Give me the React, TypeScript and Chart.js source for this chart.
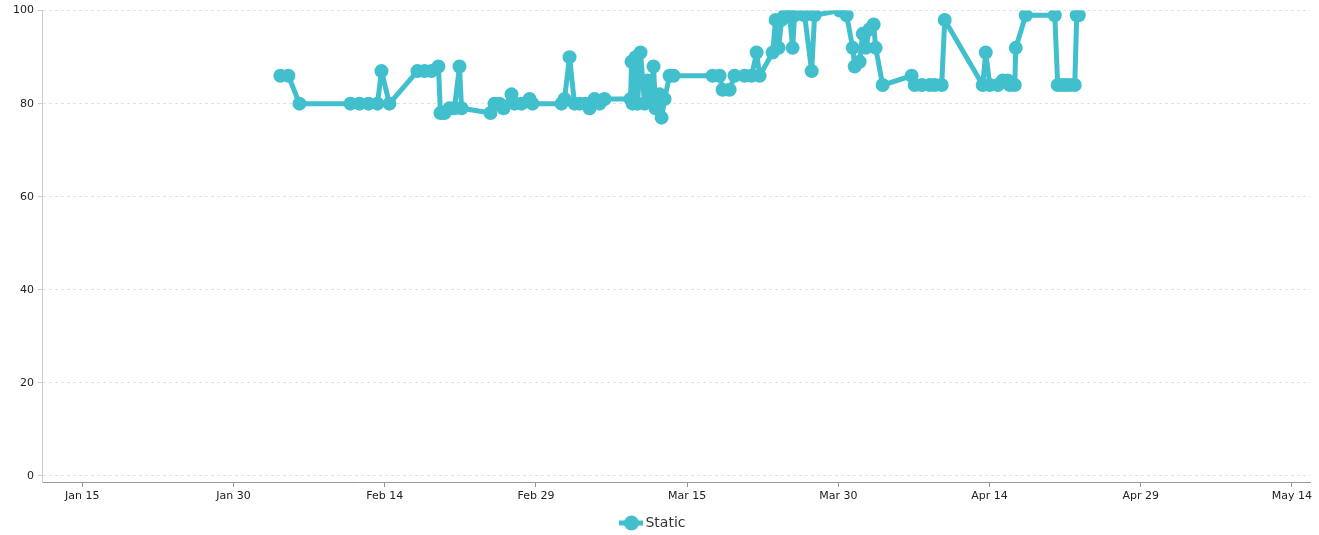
import React, { useEffect, useRef } from "react";
import { Chart, registerables } from "chart.js";

Chart.register(...registerables);

// Day offsets from 2016-01-01 (fractional days = time of day)
const dayOffsets: number[] = [
  33.65, 34.45, 35.54, 40.6, 41.49, 42.39, 43.28, 43.68, 44.47, 47.25,
  47.95, 48.64, 49.33, 49.53, 49.93, 50.43, 50.92, 51.42, 51.62, 54.5,
  54.89, 55.39, 55.79, 56.58, 56.88, 57.57, 58.37, 58.66, 61.54, 61.84,
  62.34, 62.83, 63.33, 63.93, 64.32, 64.82, 65.32, 65.81, 68.39, 68.49,
  68.59, 68.89, 69.09, 69.38, 69.78, 70.08, 70.38, 70.67, 70.87, 71.27,
  71.47, 71.77, 72.26, 72.66, 76.53, 77.23, 77.52, 78.22, 78.71, 79.71,
  80.4, 80.9, 81.2, 82.49, 82.78, 83.08, 83.38, 83.68, 84.17, 84.47,
  84.67, 85.66, 86.36, 86.65, 89.14, 89.83, 90.43, 90.63, 91.12, 91.42,
  91.72, 92.11, 92.51, 92.71, 93.4, 96.28, 96.58, 97.28, 98.07, 98.57,
  99.26, 99.56, 103.33, 103.63, 104.03, 104.82, 105.32, 105.81, 106.01, 106.51,
  106.61, 107.6, 110.48, 110.77, 111.17, 111.57, 111.97, 112.46, 112.66, 112.86,
];

const staticValues: number[] = [
  86, 86, 80, 80, 80, 80, 80, 87, 80, 87,
  87, 87, 88, 78, 78, 79, 79, 88, 79, 78,
  80, 80, 79, 82, 80, 80, 81, 80, 80, 81,
  90, 80, 80, 80, 79, 81, 80, 81, 81, 89,
  80, 90, 80, 91, 80, 85, 81, 88, 79, 82,
  77, 81, 86, 86, 86, 86, 83, 83, 86, 86,
  86, 91, 86, 91, 98, 92, 98, 99, 99, 92,
  99, 99, 87, 99, 100, 99, 92, 88, 89, 95,
  92, 96, 97, 92, 84, 86, 84, 84, 84, 84,
  84, 98, 84, 91, 84, 84, 85, 85, 84, 84,
  92, 99, 99, 84, 84, 84, 84, 84, 99, 99,
];

const xTickDays: number[] = [14, 29, 44, 59, 74, 89, 104, 119, 134];
const yTickValues: number[] = [0, 20, 40, 60, 80, 100];
const seriesName = "Static";

const MONTHS = ["Jan", "Feb", "Mar", "Apr", "May", "Jun", "Jul", "Aug", "Sep", "Oct", "Nov", "Dec"];
const COLOR = "#41bfcd";

function dayLabel(d: number): string {
  const dt = new Date(2016, 0, 1 + Math.round(d));
  return `${MONTHS[dt.getMonth()]} ${dt.getDate()}`;
}

export default function App() {
  const ref = useRef<HTMLCanvasElement | null>(null);

  useEffect(() => {
    if (!ref.current) return;
    const icon = document.createElement("canvas");
    icon.width = 24;
    icon.height = 16;
    const ictx = icon.getContext("2d")!;
    ictx.strokeStyle = COLOR;
    ictx.lineWidth = 5;
    ictx.beginPath();
    ictx.moveTo(0, 8);
    ictx.lineTo(24, 8);
    ictx.stroke();
    ictx.fillStyle = COLOR;
    ictx.beginPath();
    ictx.arc(12, 8, 7.5, 0, Math.PI * 2);
    ictx.fill();

    const data = dayOffsets.map((d, i) => ({ x: d, y: staticValues[i] }));
    const font = "'DejaVu Sans', sans-serif";

    const chart = new Chart(ref.current, {
      type: "line",
      data: {
        datasets: [
          {
            label: seriesName,
            data,
            borderColor: COLOR,
            backgroundColor: COLOR,
            borderWidth: 5,
            borderJoinStyle: "round",
            borderCapStyle: "round",
            pointRadius: 7,
            pointHoverRadius: 7,
            pointBackgroundColor: COLOR,
            pointBorderColor: COLOR,
            pointBorderWidth: 0,
            tension: 0,
            clip: 0,
          } as any,
        ],
      },
      options: {
        animation: false,
        responsive: false,
        maintainAspectRatio: false,
        layout: { padding: { left: 0, right: 9, top: 10, bottom: -5 } },
        plugins: {
          tooltip: { enabled: false },
          legend: {
            position: "bottom",
            labels: {
              usePointStyle: true,
              pointStyle: icon as any,
              pointStyleWidth: 14,
              boxHeight: 14,
              padding: 2,
              color: "#333",
              font: { family: font, size: 14 },
            },
          },
        },
        scales: {
          x: {
            type: "linear",
            min: 10,
            max: 135.8,
            afterBuildTicks: (scale: any) => {
              scale.ticks = xTickDays.map((v) => ({ value: v }));
            },
            afterFit: (scale: any) => {
              scale.height = 32;
            },
            ticks: {
              autoSkip: false,
              maxRotation: 0,
              padding: 3,
              color: "#222",
              font: { family: font, size: 11 },
              callback: (v: any) => dayLabel(Number(v)),
            },
            grid: {
              drawOnChartArea: false,
              drawTicks: true,
              tickLength: 5,
              tickColor: "#999",
            },
            border: { color: "#999", width: 1 },
          },
          y: {
            type: "linear",
            min: -1.3,
            max: 100,
            afterBuildTicks: (scale: any) => {
              scale.ticks = yTickValues.map((v) => ({ value: v }));
            },
            afterFit: (scale: any) => {
              scale.width = 42;
            },
            ticks: {
              padding: 4,
              color: "#222",
              font: { family: font, size: 11 },
            },
            grid: {
              color: "#e2e2e2",
              tickColor: "#ccc",
              tickLength: 4,
              tickBorderDash: [],
            } as any,
            border: { color: "#ccc", width: 1, dash: [3, 3] } as any,
          },
        },
      },
    });
    return () => chart.destroy();
  }, []);

  return (
    <div style={{ position: "fixed", left: 0, top: 0, width: 1319, height: 535, background: "#fff" }}>
      <canvas ref={ref} width={1319} height={535} style={{ width: 1319, height: 535 }} />
    </div>
  );
}
